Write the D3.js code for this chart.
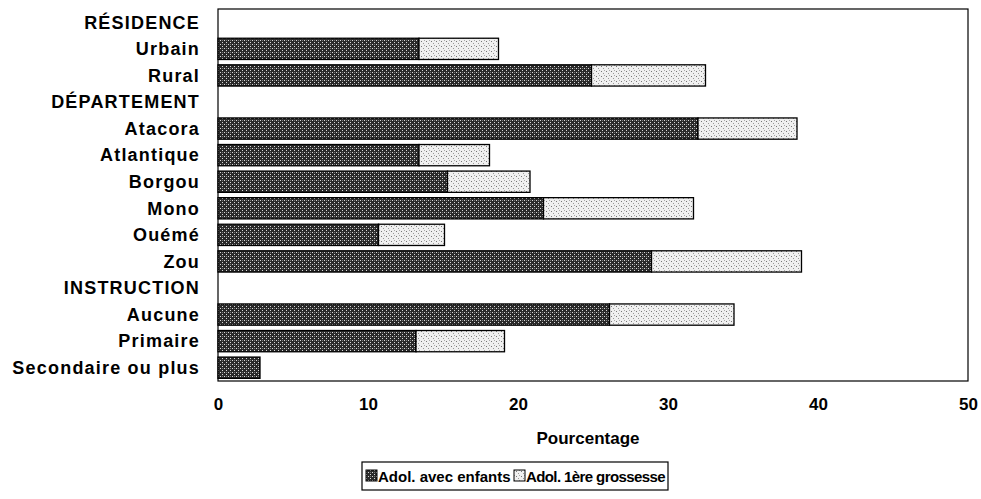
<!DOCTYPE html>
<html><head><meta charset="utf-8">
<script src="https://cdn.jsdelivr.net/npm/d3@7"></script>
<style>body{margin:0;background:#fff}svg{display:block}text{font-family:"Liberation Sans",Arial,sans-serif;font-weight:bold;fill:#000}</style>
</head><body><svg id="c" width="981" height="499"></svg>
<script>
const categories = ["RÉSIDENCE","Urbain","Rural","DÉPARTEMENT","Atacora","Atlantique","Borgou","Mono","Ouémé","Zou","INSTRUCTION","Aucune","Primaire","Secondaire ou plus"];
const avecEnfants = [null,13.4,24.9,null,32.0,13.4,15.3,21.7,10.7,28.9,null,26.1,13.2,2.8];
const premiereGrossesse = [null,5.3,7.6,null,6.6,4.7,5.5,10.0,4.4,10.0,null,8.3,5.9,0];
const seriesNames = ["Adol. avec enfants","Adol. 1ère grossesse"];
const xTicks = [0,10,20,30,40,50];

const svg = d3.select("#c");
const m = {l:218,r:968,t:9,b:381};
const x = d3.scaleLinear().domain([0,50]).range([m.l,m.r]);
const y = d3.scaleBand().domain(categories).range([m.t,m.b]).paddingInner(0.2).paddingOuter(0.1);

const defs = svg.append("defs");
const pd = defs.append("pattern").attr("id","pd").attr("width",4).attr("height",4).attr("patternUnits","userSpaceOnUse");
pd.append("rect").attr("width",4).attr("height",4).attr("fill","#2a2a2a");
pd.append("rect").attr("x",0).attr("y",0).attr("width",1).attr("height",1).attr("fill","#d8d8d8");
pd.append("rect").attr("x",2).attr("y",2).attr("width",1).attr("height",1).attr("fill","#d8d8d8");
pd.append("rect").attr("x",2).attr("y",0).attr("width",1).attr("height",1).attr("fill","#777");
const pl = defs.append("pattern").attr("id","pl").attr("width",5).attr("height",5).attr("patternUnits","userSpaceOnUse");
pl.append("rect").attr("width",5).attr("height",5).attr("fill","#f0f0f0");
pl.append("rect").attr("x",1).attr("y",1).attr("width",1).attr("height",1).attr("fill","#777");
pl.append("rect").attr("x",3).attr("y",3).attr("width",1).attr("height",1).attr("fill","#999");
pl.append("rect").attr("x",4).attr("y",0).attr("width",1).attr("height",1).attr("fill","#aaa");

// frame
svg.append("rect").attr("x",m.l).attr("y",m.t).attr("width",m.r-m.l).attr("height",m.b-m.t)
  .attr("fill","none").attr("stroke","#000").attr("stroke-width",1.2);

const rows = categories.map((c,i)=>({c, a:avecEnfants[i], g:premiereGrossesse[i]})).filter(d=>d.a!=null);
const g = svg.append("g");
g.selectAll("rect.a").data(rows).join("rect").attr("class","a")
  .attr("x",x(0)).attr("y",d=>y(d.c)).attr("width",d=>x(d.a)-x(0)).attr("height",y.bandwidth())
  .attr("fill","url(#pd)").attr("stroke","#000").attr("stroke-width",1.3);
g.selectAll("rect.g").data(rows.filter(d=>d.g>0)).join("rect").attr("class","g")
  .attr("x",d=>x(d.a)).attr("y",d=>y(d.c)).attr("width",d=>x(d.a+d.g)-x(d.a)).attr("height",y.bandwidth())
  .attr("fill","url(#pl)").attr("stroke","#000").attr("stroke-width",1.3);

const ff = "'Liberation Sans',Arial,sans-serif";
// y labels
const yAxis = d3.axisLeft(y).tickSize(0).tickPadding(18);
const ya = svg.append("g").attr("transform",`translate(${m.l},0)`).call(yAxis);
ya.select(".domain").remove();
ya.selectAll("text").attr("font-size",18).attr("dy","0.35em").style("letter-spacing","1.2px")
  .style("font-family",ff).style("font-weight","bold");

// x axis
const xAxis = d3.axisBottom(x).tickValues(xTicks).tickSize(0).tickPadding(17);
const xa = svg.append("g").attr("transform",`translate(0,${m.b})`).call(xAxis);
xa.select(".domain").remove();
xa.selectAll("text").attr("font-size",17).style("font-family",ff).style("font-weight","bold");

svg.append("text").attr("x",588).attr("y",444).attr("text-anchor","middle").attr("font-size",17).text("Pourcentage");

// legend
const lg = svg.append("g");
lg.append("rect").attr("x",362).attr("y",462).attr("width",306).attr("height",28).attr("fill","#fff").attr("stroke","#000").attr("stroke-width",1.2);
const items = [{n:seriesNames[0],f:"url(#pd)",x:366,ls:"0px"},{n:seriesNames[1],f:"url(#pl)",x:514,ls:"-0.6px"}];
items.forEach(it=>{
  lg.append("rect").attr("x",it.x).attr("y",470).attr("width",11).attr("height",11).attr("fill",it.f).attr("stroke","#000").attr("stroke-width",1);
  lg.append("text").attr("x",it.x+12).attr("y",482).attr("font-size",15).style("letter-spacing",it.ls).text(it.n);
});
</script></body></html>
